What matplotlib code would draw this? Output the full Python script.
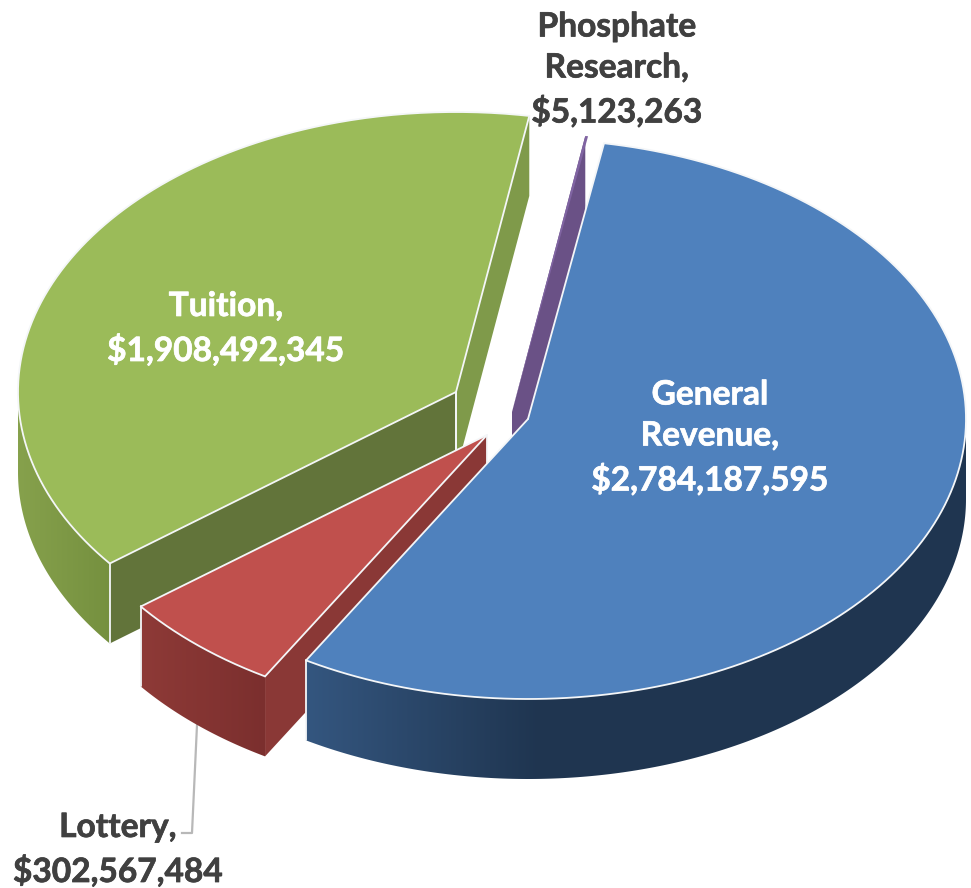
import numpy as np
import matplotlib
matplotlib.use("Agg")
import matplotlib.pyplot as plt
import matplotlib.patheffects as pe
from matplotlib.colors import LinearSegmentedColormap
from matplotlib.patches import Polygon

categories = ["General Revenue", "Lottery", "Tuition", "Phosphate Research"]
values = [2784187595, 302567484, 1908492345, 5123263]
label_names = ["General\nRevenue,", "Lottery,", "Tuition,", "Phosphate\nResearch,"]

# pie look, all in pixels of the 971x888 picture
RX, RY = 438, 280
DEPTH = 80
START = 10.0  # degrees clockwise from the top
centers = [(528, 419), (487, 435), (456, 392), (512, 412)]
top_colors = ["#4F81BD", "#C0504D", "#9BBB59", "#8064A2"]
wall_colors = [("#34567F", "#1F3550"), ("#8E3A37", "#7B2F2E"), ("#86A14C", "#75903F")]
grad_stops = [(307, 540), (140, 265), (18, 110)]
# flat cut sides that can be seen: which end of the slice, and colour
inner_faces = {
    1: [(0, "#8A3836")],
    2: [(1, "#7F9A4A"), (0, "#62743A")],
    3: [(0, "#6A5186")],
}
label_pos = [(710, 438), (118, 850), (226, 329), (617, 70)]
label_colors = ["white", "#404040", "white", "#404040"]
draw_order = [2, 3, 1, 0]  # back to front

plt.rcParams["font.family"] = ["Lato", "DejaVu Sans"]
fig = plt.figure(figsize=(9.71, 8.88), dpi=100)
ax = fig.add_axes([0, 0, 1, 1])


def rim(c, t):
    t = np.radians(t)
    return np.column_stack([c[0] + RX * np.sin(t), c[1] - RY * np.cos(t)])


angles = START + 360 * np.cumsum([0] + values) / sum(values)
EDGE = dict(color="#F4F6F8", lw=1.3, solid_capstyle="round")
down = np.array([0, DEPTH])

for z, i in enumerate(draw_order, start=1):
    c = np.array(centers[i])
    t0, t1 = angles[i], angles[i + 1]
    ends = rim(c, [t0, t1])

    for end, col in inner_faces.get(i, []):
        p = ends[end]
        ax.add_patch(Polygon([c, p, p + down, c + down], closed=True, fc=col, ec="none", zorder=z))
        if i != 3:
            ax.plot([c[0], c[0]], [c[1], c[1] + DEPTH], zorder=z + 0.05, **EDGE)

    # outer wall, shaded left to right, only the part that faces us
    if i < 3:
        wt = np.linspace(max(t0, 90), min(t1, 270), 200)
        upper = rim(c, wt)
        shape = Polygon(np.vstack([upper, (upper + down)[::-1]]), closed=True, fc="none", ec="none")
        ax.add_patch(shape)
        cmap = LinearSegmentedColormap.from_list("wall", wall_colors[i])
        shade = np.interp(np.arange(971), grad_stops[i], [0, 1]).reshape(1, -1)
        im = ax.imshow(shade, cmap=cmap, vmin=0, vmax=1, aspect="auto", extent=[0, 971, 888, 0], zorder=z + 0.1)
        im.set_clip_path(shape)
        # white upright at the near corner of the wall
        p = ends[0] if i == 2 else ends[1]
        ax.plot([p[0], p[0]], [p[1], p[1] + DEPTH], zorder=z + 0.2, **EDGE)

    # top of the slice, the phosphate sliver has no white edge
    top = rim(c, np.linspace(t0, t1, 300))
    ax.add_patch(Polygon(np.vstack([[c], top]), closed=True, fc=top_colors[i], ec="none", zorder=z + 0.3))
    if i != 3:
        ax.plot(top[:, 0], top[:, 1], zorder=z + 0.4, **EDGE)
        for p in ends:
            ax.plot([c[0], p[0]], [c[1], p[1]], zorder=z + 0.4, **EDGE)

# leader line for the lottery label
ax.plot([197, 192, 182], [725, 833, 833], color="#B8B8B8", lw=1.6, zorder=0.5)

for i, name in enumerate(label_names):
    t = ax.text(label_pos[i][0], label_pos[i][1], f"{name}\n${values[i]:,}", color=label_colors[i],
                fontsize=24.1, fontweight="bold", ha="center", va="center", linespacing=1.5, zorder=20)
    t.set_path_effects([pe.withStroke(linewidth=0.5, foreground=label_colors[i])])

ax.set_xlim(0, 971)
ax.set_ylim(888, 0)
ax.axis("off")
fig.savefig("out.png", dpi=100, facecolor="white")
